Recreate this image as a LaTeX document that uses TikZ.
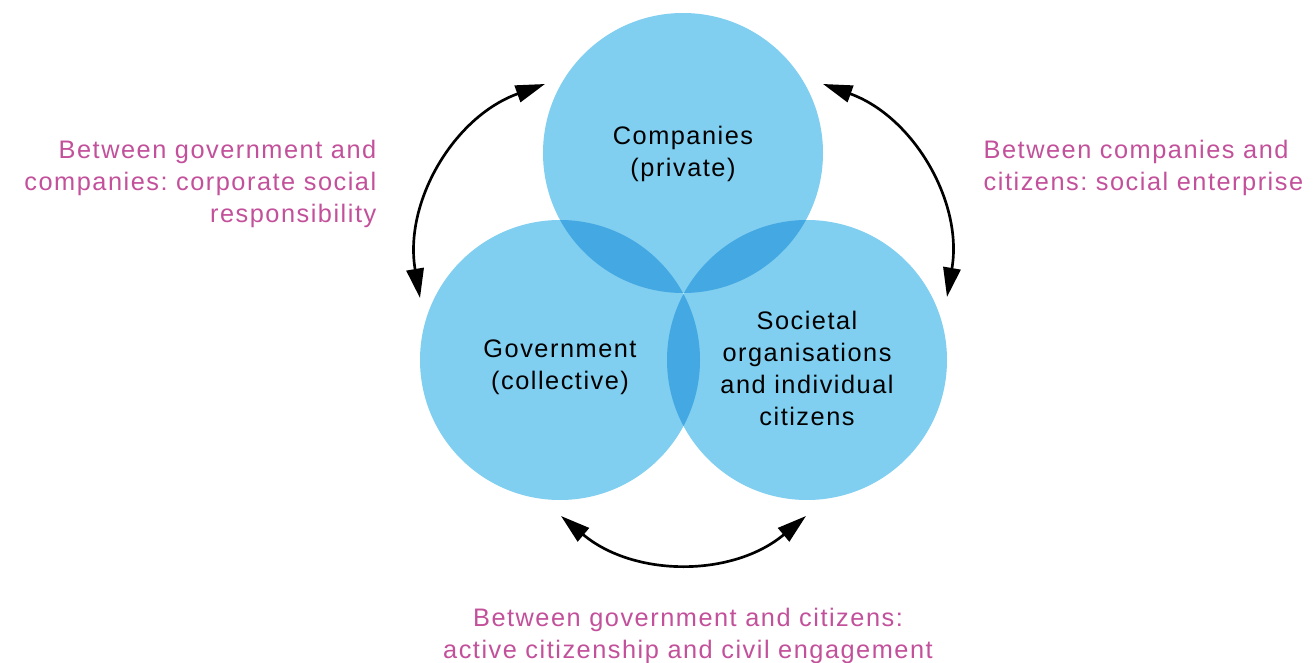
\documentclass[tikz,border=0pt]{standalone}
\usepackage{fontspec}
\setmainfont{Liberation Sans}[LetterSpace=6]
\usetikzlibrary{arrows.meta}
\definecolor{SkyFill}{HTML}{80CEF0}
\definecolor{SkyDeep}{HTML}{44A8E2}
\definecolor{Orchid}{HTML}{C2509A}
\frenchspacing

\begin{document}
\begin{tikzpicture}[x=0.75pt,y=-0.75pt,
    sectortext/.style={font=\fontsize{19}{24}\selectfont,align=center,text=black},
    linktext/.style={font=\fontsize{19}{24}\selectfont,text=Orchid},
    link/.style={line width=2pt,{Triangle[length=22pt,width=13pt]}-{Triangle[length=22pt,width=13pt]}}]
      \useasboundingbox (0,0) rectangle (1315,663);
      % the three sectors
      \foreach \cx/\cy in {683/153,560/360,807/360}
      \fill[SkyFill] (\cx,\cy) circle[radius=140];
      \foreach \ax/\ay/\bx/\by in {683/153/560/360,683/153/807/360,560/360/807/360}
      {\begin{scope}
        \clip (\ax,\ay) circle[radius=140];
        \fill[SkyDeep] (\bx,\by) circle[radius=140];
      \end{scope}}
      \node[sectortext] (comp) at (683,154) {Companies\\(private)};
      \node[sectortext] (govt) at (560,367) {Government\\(collective)};
      \node[sectortext] (citz) at (807,368) {Societal\\organisations\\and individual\\citizens};
      % arrow ends
      \coordinate (gcA) at (545,84);
      \coordinate (gcB) at (420,298);
      \coordinate (ccA) at (823,84);
      \coordinate (ccB) at (947,297);
      \coordinate (gzA) at (561,516);
      \coordinate (gzB) at (806,516);
      \draw[link] (gcA) to[bend right=40] (gcB);
      \draw[link] (ccA) to[bend left=40] (ccB);
      \draw[link] (gzA) to[bend right=40] (gzB);
      \node[linktext,anchor=east,align=right] (gcnote) at (381,184)
      {Between government and\\companies: corporate social\\responsibility};
      \node[linktext,anchor=west,align=left] (ccnote) at (979,168)
      {Between companies and\\citizens: social enterprise};
      \node[linktext,align=center] (gznote) at (688,636)
      {Between government and citizens:\\active citizenship and civil engagement};
    \end{tikzpicture}
\end{document}
